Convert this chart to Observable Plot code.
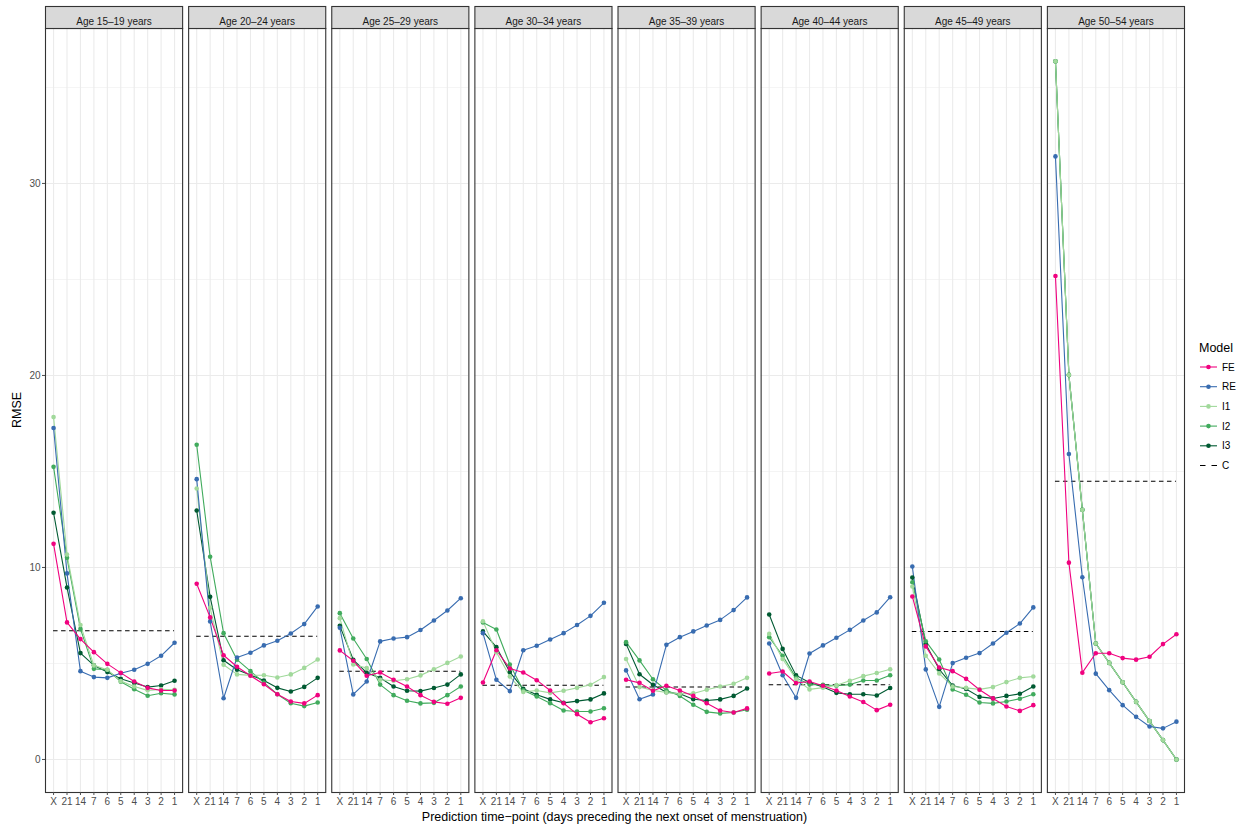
<!DOCTYPE html>
<html><head><meta charset="utf-8">
<script src="https://cdn.jsdelivr.net/npm/d3@7"></script>
<script src="https://cdn.jsdelivr.net/npm/@observablehq/plot@0.6"></script>
<style>
body{margin:0;background:#fff;font-family:"Liberation Sans",Arial,Helvetica,sans-serif;}
#wrap{position:relative;width:1243px;height:829px;overflow:hidden;}
.ttl{position:absolute;font-size:12.5px;color:#000;white-space:nowrap;}
#xtitle{left:0;width:1229px;text-align:center;top:810px;}
#ytitle{left:17px;top:410px;transform:translate(-50%,-50%) rotate(-90deg);}
#legend{position:absolute;left:1193px;top:335px;}
</style></head><body>
<div id="wrap"><div id="chart"></div>
<div class="ttl" id="xtitle">Prediction time−point (days preceding the next onset of menstruation)</div>
<div class="ttl" id="ytitle">RMSE</div>
<div id="legend"></div></div>
<script>
const ages = ["Age 15–19 years","Age 20–24 years","Age 25–29 years","Age 30–34 years","Age 35–39 years","Age 40–44 years","Age 45–49 years","Age 50–54 years"];
const timepoints = ["X","21","14","7","6","5","4","3","2","1"];
const models = ["FE","RE","I1","I2","I3"];
const modelColors = ["#F0027F","#386CB0","#A1D99B","#41AB5D","#005A32"];
const yTicks = [0,10,20,30];

const FE = [
  [11.23,7.14,6.27,5.59,4.98,4.51,4.06,3.73,3.59,3.59],
  [9.15,7.40,5.43,4.83,4.36,3.92,3.40,3.02,2.92,3.35],
  [5.68,5.14,4.36,4.53,4.15,3.80,3.35,3.00,2.90,3.21],
  [4.01,5.69,4.74,4.53,4.13,3.59,2.93,2.36,1.94,2.15],
  [4.15,3.99,3.58,3.84,3.59,3.31,2.93,2.55,2.45,2.66],
  [4.48,4.58,3.98,4.06,3.84,3.59,3.28,2.99,2.57,2.85],
  [8.49,5.89,4.79,4.60,4.20,3.63,3.18,2.76,2.53,2.83],
  [25.18,10.25,4.52,5.53,5.53,5.28,5.20,5.35,6.01,6.52]
];
const RE = [
  [17.26,9.69,4.60,4.29,4.25,4.49,4.67,4.98,5.40,6.08],
  [14.60,7.19,3.19,5.31,5.56,5.94,6.18,6.56,7.05,7.97],
  [6.86,3.39,4.06,6.15,6.30,6.37,6.74,7.24,7.76,8.40],
  [6.58,4.15,3.56,5.69,5.92,6.25,6.58,7.00,7.48,8.16],
  [4.64,3.14,3.39,5.97,6.37,6.67,6.98,7.27,7.78,8.44],
  [6.04,4.39,3.21,5.52,5.94,6.34,6.75,7.24,7.66,8.45],
  [10.05,4.69,2.74,5.02,5.30,5.54,6.04,6.60,7.08,7.92],
  [31.41,15.91,9.49,4.47,3.61,2.83,2.22,1.72,1.62,1.97]
];
const I1 = [
  [17.83,10.67,7.00,4.90,4.67,4.08,3.80,3.60,3.65,3.63],
  [14.11,7.90,4.93,4.43,4.38,4.39,4.27,4.43,4.77,5.21],
  [7.36,4.95,4.76,4.15,4.10,4.18,4.38,4.70,5.03,5.36],
  [7.20,5.59,4.32,3.52,3.59,3.47,3.58,3.73,3.89,4.29],
  [5.23,3.77,3.60,3.49,3.42,3.44,3.63,3.80,3.94,4.25],
  [6.54,5.23,4.18,3.65,3.74,3.87,4.10,4.34,4.50,4.70],
  [9.01,5.40,4.48,3.80,3.73,3.65,3.77,4.03,4.25,4.32],
  [36.36,20.03,13.00,6.04,5.03,4.02,3.00,2.00,1.01,0.00]
];
const I2 = [
  [15.24,10.50,6.80,4.72,4.67,4.05,3.66,3.32,3.45,3.39],
  [16.39,10.56,6.58,5.20,4.60,4.00,3.40,2.93,2.78,2.97],
  [7.62,6.30,5.23,3.90,3.35,3.06,2.92,2.95,3.35,3.80],
  [7.13,6.77,4.95,3.60,3.28,2.93,2.55,2.50,2.50,2.67],
  [6.11,5.16,4.18,3.60,3.31,2.85,2.48,2.40,2.45,2.59],
  [6.37,5.40,4.25,3.90,3.89,3.84,3.90,4.11,4.11,4.39],
  [9.23,6.16,5.21,3.65,3.37,2.97,2.92,3.02,3.16,3.40],
  [36.36,20.03,13.00,6.04,5.03,4.02,3.00,2.00,1.01,0.00]
];
const I3 = [
  [12.85,8.96,5.54,4.90,4.55,4.20,3.98,3.77,3.85,4.10],
  [12.97,8.47,5.17,4.67,4.40,4.11,3.73,3.54,3.78,4.25],
  [6.96,5.19,4.52,4.25,3.80,3.58,3.56,3.72,3.90,4.43],
  [6.67,5.85,4.55,3.68,3.37,3.13,2.95,3.04,3.13,3.44],
  [6.02,4.44,3.89,3.50,3.42,3.14,3.07,3.13,3.31,3.70],
  [7.55,5.76,4.38,4.01,3.77,3.47,3.40,3.40,3.33,3.72],
  [9.48,6.02,4.70,3.85,3.67,3.26,3.18,3.31,3.42,3.80],
  [36.36,20.03,13.00,6.04,5.03,4.02,3.00,2.00,1.01,0.00]
];
const C = [6.70,6.42,4.60,3.87,3.77,3.89,6.67,14.49];

// draw order: greens underneath, then RE, then FE on top
const seriesOrder = [["I3",I3],["I2",I2],["I1",I1],["RE",RE],["FE",FE]];
const rows = [];
for (const [m, arr] of seriesOrder) {
  ages.forEach((age, i) => {
    timepoints.forEach((t, j) => {
      const v = arr[i][j];
      if (v != null) rows.push({age, model: m, t, v});
    });
  });
}
const cRows = ages.map((age, i) => ({age, v: C[i]}));

const W = 1243, H = 829;
const mL = 45, mR = 59, mT = 28, mB = 37;
const panelH = H - mT - mB, stripH = 22;

const chart = Plot.plot({
  width: W, height: H,
  marginLeft: mL, marginRight: mR, marginTop: mT, marginBottom: mB,
  style: {fontFamily: '"Liberation Sans", Arial, Helvetica, sans-serif', background: "#fff"},
  fx: {domain: ages, paddingInner: 0.042, paddingOuter: 0, round: false, axis: null, label: null},
  x: {type: "point", domain: timepoints, padding: 0.6, round: false, axis: null, label: null},
  y: {domain: [-1.72, 38.07], axis: null, label: null},
  color: {domain: models, range: modelColors},
  marks: [
    Plot.gridY([5,15,25,35], {stroke: "#ebebeb", strokeOpacity: 1, strokeWidth: 0.55}),
    Plot.gridY(yTicks, {stroke: "#ebebeb", strokeOpacity: 1, strokeWidth: 1.1}),
    Plot.gridX(timepoints, {stroke: "#ebebeb", strokeOpacity: 1, strokeWidth: 1.1}),
    Plot.ruleY(cRows, {fx: "age", y: "v", x1: () => "X", x2: () => "1", stroke: "#000", strokeWidth: 1.05, strokeDasharray: "4.5,3.5"}),
    Plot.line(rows, {fx: "age", x: "t", y: "v", z: "model", stroke: "model", strokeWidth: 1.1}),
    Plot.dot(rows, {fx: "age", x: "t", y: "v", fill: "model", r: 2.3}),
    Plot.frame({stroke: "#333333", strokeWidth: 1.1}),
    Plot.frame({fill: "#d9d9d9", stroke: "#333333", strokeWidth: 1.1, insetBottom: panelH - stripH, dy: -stripH}),
    Plot.text(ages, {fx: d => d, text: d => d, frameAnchor: "top", dy: -11, fontSize: 10, fill: "#1a1a1a"}),
    Plot.axisX(timepoints, {anchor: "bottom", tickSize: 3, tickPadding: 2, fontSize: 10, color: "#4d4d4d", label: null}),
    Plot.axisY(yTicks, {anchor: "left", tickSize: 3, tickPadding: 2, fontSize: 10, color: "#4d4d4d", label: null})
  ]
});
document.getElementById("chart").appendChild(chart);

// legend
const lg = d3.select("#legend").append("svg").attr("width", 50).attr("height", 140)
  .style("font-family", '"Liberation Sans", Arial, sans-serif');
lg.append("text").attr("x", 6).attr("y", 17).attr("font-size", 12.5).text("Model");
const keys = models.map((m, i) => ({m, c: modelColors[i]}));
keys.forEach((k, i) => {
  const y = 32 + i * 19.7;
  lg.append("line").attr("x1", 7).attr("x2", 24).attr("y1", y).attr("y2", y).attr("stroke", k.c).attr("stroke-width", 1.1);
  lg.append("circle").attr("cx", 15.5).attr("cy", y).attr("r", 2.3).attr("fill", k.c);
  lg.append("text").attr("x", 29).attr("y", y).attr("dy", "0.35em").attr("font-size", 10).attr("fill", "#000").text(k.m);
});
{
  const y = 32 + 5 * 19.7;
  lg.append("line").attr("x1", 7).attr("x2", 24).attr("y1", y).attr("y2", y).attr("stroke", "#000").attr("stroke-width", 1.05).attr("stroke-dasharray", "5.5,6");
  lg.append("text").attr("x", 29).attr("y", y).attr("dy", "0.35em").attr("font-size", 10).attr("fill", "#000").text("C");
}
</script></body></html>
